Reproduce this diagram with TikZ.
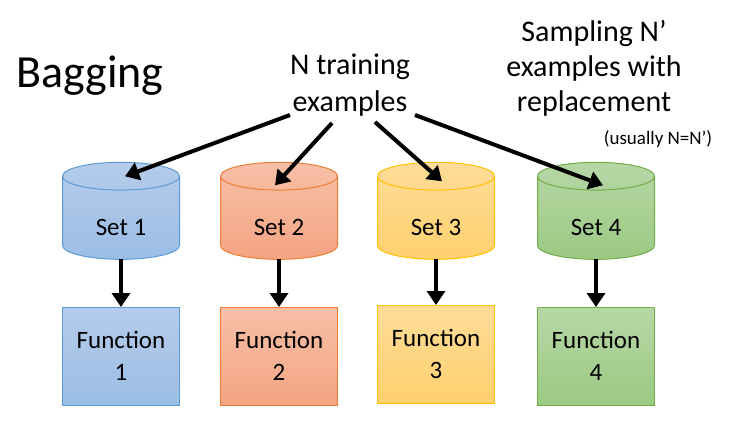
\documentclass[tikz,border=0pt]{standalone}
\usepackage{fontspec}
\setmainfont{Carlito}
\usetikzlibrary{shapes.geometric,arrows.meta,calc}
\definecolor{blueline}{HTML}{5B9BD5}
\definecolor{bluetop}{HTML}{B5CCEA}
\definecolor{bluebot}{HTML}{9BBDE5}
\definecolor{orangeline}{HTML}{ED7D31}
\definecolor{orangetop}{HTML}{F7C0A8}
\definecolor{orangebot}{HTML}{F4A482}
\definecolor{goldline}{HTML}{FFC000}
\definecolor{goldtop}{HTML}{FFDC98}
\definecolor{goldbot}{HTML}{FFD06E}
\definecolor{greenline}{HTML}{70AD47}
\definecolor{greentop}{HTML}{B6D7A6}
\definecolor{greenbot}{HTML}{9CC983}
\begin{document}
\begin{tikzpicture}[x=1pt,y=-1pt,
cyl/.style={cylinder,shape border rotate=90,aspect=0.55,minimum width=117pt,minimum height=97pt,
  draw=#1line,top color=#1top,bottom color=#1bot,line width=1pt,inner sep=0pt,outer sep=0pt,
  text height=34pt,text depth=0pt,font=\fontsize{25}{30}\selectfont},
fun/.style={rectangle,minimum width=117pt,minimum height=98pt,draw=#1line,top color=#1top,
  bottom color=#1bot,line width=1pt,outer sep=0pt,align=center,font=\fontsize{25}{32}\selectfont},
big/.style={align=center,font=\fontsize{30}{37}\selectfont},
arr/.style={line width=4pt,-{Triangle[length=14pt,width=18pt]}}]
\useasboundingbox (0,0) rectangle (741,434);
\node[anchor=base west,inner sep=0pt,font=\fontsize{46}{52}\selectfont] (title) at (16,87) {Bagging};
\node[big] (src) at (350,85) {N training\\examples};
\node[big,font=\fontsize{30}{35}\selectfont] (samp) at (594,68) {Sampling N’\\examples with\\replacement};
\node[font=\fontsize{19}{23}\selectfont] (usual) at (658,139) {(usually N=N’)};
\foreach \i/\x/\c/\fy in {1/121/blue/356,2/279/orange/356,3/436/gold/354,4/596/green/356}{
\node[cyl=\c] (set\i) at (\x,218) {Set \i};
\node[fun=\c] (fun\i) at (\x,\fy) {Function\\\i};
\draw[arr] (set\i.south) -- (fun\i.north);
}
\foreach \i/\sx/\sy/\tx/\ty in {1/-60/30/4/14,2/-18/38/-4/23,3/25/37/6/19,4/65/30/7/23}
\draw[arr] ($(src.center)+(\sx,\sy)$) -- ($(set\i.north)+(\tx,\ty)$);
\end{tikzpicture}
\end{document}
